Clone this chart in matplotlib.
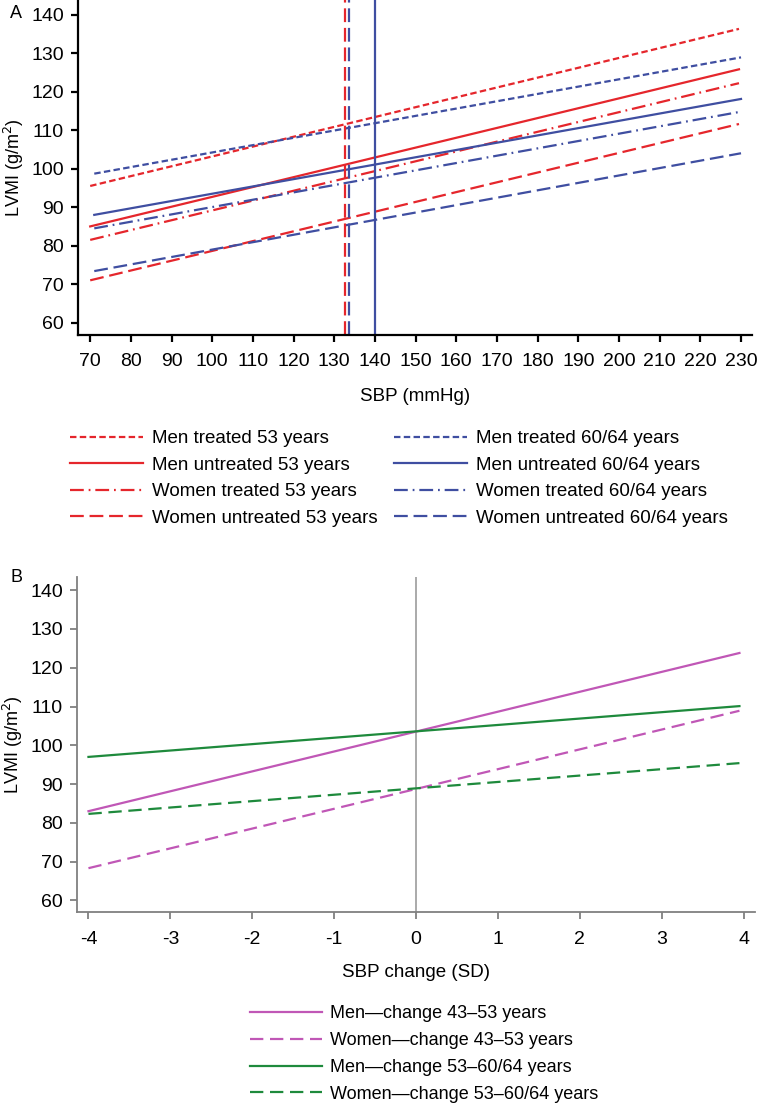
import numpy as np
import matplotlib
matplotlib.use("Agg")
import matplotlib.pyplot as plt

plt.rcParams['font.family'] = ['Liberation Sans', 'DejaVu Sans']
plt.rcParams['axes.unicode_minus'] = False

# --- Panel A data: fitted LVMI vs SBP (endpoints of each fitted line) ---
sbp_red = [70, 229.5]
sbp_blue = [71, 230]
men_treated_53 = [95.5, 136.3]
men_untreated_53 = [85.0, 125.8]
women_treated_53 = [81.5, 122.2]
women_untreated_53 = [71.0, 111.6]
men_treated_6064 = [98.7, 128.9]
men_untreated_6064 = [88.0, 118.1]
women_treated_6064 = [84.5, 114.8]
women_untreated_6064 = [73.4, 104.0]
# mean SBP reference lines
vline_red_dash = 132.6
vline_blue_dash = 133.7
vline_blue_solid = 140.1

xticks_a = list(range(70, 231, 10))
yticks = list(range(60, 141, 10))

# --- Panel B data: LVMI vs SBP change (SD) ---
sd_change = [-4, 3.95]
men_4353 = [83.0, 123.8]
women_4353 = [68.3, 108.9]
men_536064 = [97.0, 110.1]
women_536064 = [82.3, 95.4]
xticks_b = list(range(-4, 5))

RED = '#e5262c'
BLUE = '#3f4ea1'
MAG = '#c057b6'
GREEN = '#1e8a3c'

SHORT = (0, (2.9, 1.5))
LONG = (0, (6.2, 2.6))
DASHDOT = (0, (6.2, 2.2, 0.8, 2.2))

W, H = 757, 1104
fig = plt.figure(figsize=(W / 100, H / 100), dpi=100)

ax1 = fig.add_axes([78 / W, 1 - 335 / H, (752 - 78) / W, 335 / H])
lw = 1.6
l1, = ax1.plot(sbp_red, men_treated_53, color=RED, lw=lw, ls=SHORT)
l2, = ax1.plot(sbp_red, men_untreated_53, color=RED, lw=lw, ls='-')
l3, = ax1.plot(sbp_red, women_treated_53, color=RED, lw=lw, ls=DASHDOT)
l4, = ax1.plot(sbp_red, women_untreated_53, color=RED, lw=lw, ls=LONG)
l5, = ax1.plot(sbp_blue, men_treated_6064, color=BLUE, lw=lw, ls=SHORT)
l6, = ax1.plot(sbp_blue, men_untreated_6064, color=BLUE, lw=lw, ls='-')
l7, = ax1.plot(sbp_blue, women_treated_6064, color=BLUE, lw=lw, ls=DASHDOT)
l8, = ax1.plot(sbp_blue, women_untreated_6064, color=BLUE, lw=lw, ls=LONG)
ax1.axvline(vline_red_dash, color=RED, lw=lw, ls=LONG)
ax1.axvline(vline_blue_dash, color=BLUE, lw=lw, ls=LONG)
ax1.axvline(vline_blue_solid, color=BLUE, lw=lw, ls='-')

ax1.set_xlim(67, 232.7)
ax1.set_ylim(56.8, 143.8)
ax1.set_xticks(xticks_a)
ax1.set_yticks(yticks)
for s in ['top', 'right']:
    ax1.spines[s].set_visible(False)
for s in ['left', 'bottom']:
    ax1.spines[s].set_linewidth(1.6)
ax1.tick_params(axis='both', labelsize=14, length=5, width=1.6)
ax1.tick_params(axis='x', pad=8)
ax1.tick_params(axis='y', pad=5)
ax1.set_xlabel('SBP (mmHg)', fontsize=13.5, labelpad=13)
ax1.set_ylabel('LVMI (g/m$^2$)', fontsize=13, labelpad=4)
fig.text(10 / W, 1 - 14 / H, 'A', fontsize=13, va='center', ha='left')

fig.legend([l1, l2, l3, l4, l5, l6, l7, l8],
           ['Men treated 53 years', 'Men untreated 53 years',
            'Women treated 53 years', 'Women untreated 53 years',
            'Men treated 60/64 years', 'Men untreated 60/64 years',
            'Women treated 60/64 years', 'Women untreated 60/64 years'],
           ncol=2, loc='upper left', bbox_to_anchor=(70 / W, 1 - 430 / H),
           frameon=False, fontsize=13.5, handlelength=3.9, handletextpad=0.45,
           columnspacing=0.9, labelspacing=0.5, borderpad=0, borderaxespad=0)

# --- Panel B ---
ax2 = fig.add_axes([77 / W, 1 - 912 / H, (755 - 77) / W, (912 - 577) / H])
ax2.axvline(0, color='#aaaaaa', lw=1.4)
m1, = ax2.plot(sd_change, men_4353, color=MAG, lw=lw, ls='-')
m2, = ax2.plot(sd_change, women_4353, color=MAG, lw=lw, ls=(0, (6, 3)))
m3, = ax2.plot(sd_change, men_536064, color=GREEN, lw=lw, ls='-')
m4, = ax2.plot(sd_change, women_536064, color=GREEN, lw=lw, ls=(0, (6, 3)))
ax2.set_xlim(-4.14, 4.14)
ax2.set_ylim(57.0, 143.4)
ax2.set_xticks(xticks_b)
ax2.set_yticks(yticks)
for s in ['top', 'right']:
    ax2.spines[s].set_visible(False)
for s in ['left', 'bottom']:
    ax2.spines[s].set_linewidth(1.3)
    ax2.spines[s].set_color('#808080')
ax2.tick_params(axis='both', labelsize=14, length=5, width=1.3, color='#808080')
ax2.tick_params(axis='x', pad=9)
ax2.tick_params(axis='y', pad=5)
ax2.set_xlabel('SBP change (SD)', fontsize=13.5, labelpad=11)
ax2.set_ylabel('LVMI (g/m$^2$)', fontsize=13, labelpad=4)
fig.text(10 / W, 1 - 578 / H, 'B', fontsize=13, va='center', ha='left')

fig.legend([m1, m2, m3, m4],
           ['Men\u2014change 43\u201353 years', 'Women\u2014change 43\u201353 years',
            'Men\u2014change 53\u201360/64 years', 'Women\u2014change 53\u201360/64 years'],
           ncol=1, loc='upper left', bbox_to_anchor=(250 / W, 1 - 1005 / H),
           frameon=False, fontsize=13, handlelength=4.0, handletextpad=0.45,
           labelspacing=0.55, borderpad=0, borderaxespad=0)

fig.savefig('out.png', dpi=100)
